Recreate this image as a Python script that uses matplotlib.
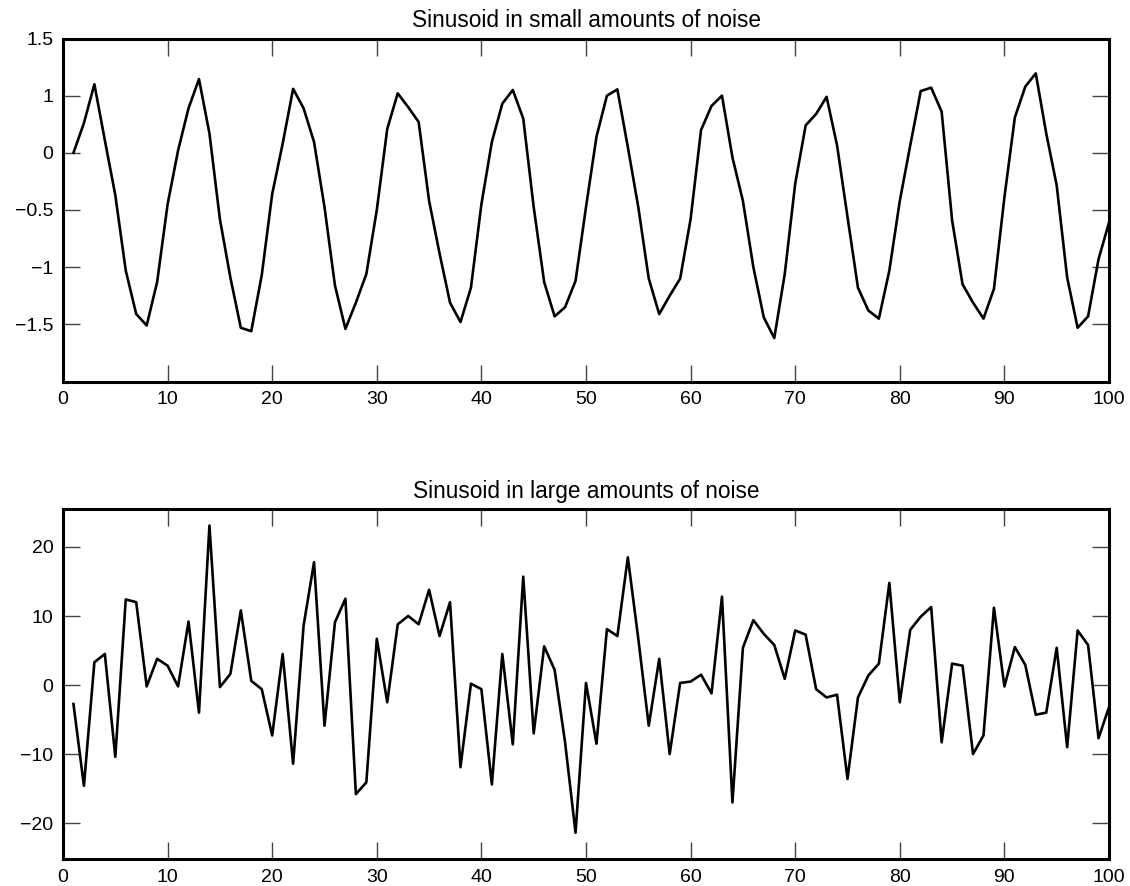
"""Sinusoid in small / large amounts of noise, two stacked line plots."""
import numpy as np
import matplotlib
matplotlib.use('Agg')
from matplotlib import pyplot as plt

plt.rcParams['font.family'] = ['Liberation Sans', 'DejaVu Sans']

#
# Data
#
n = np.arange(1, 101)

small_noise = [0.00, 0.26, 0.60, 0.11, -0.37, -1.03, -1.41, -1.51, -1.13, -0.45,
               0.02, 0.39, 0.645, 0.17, -0.58, -1.09, -1.53, -1.56, -1.07, -0.36,
               0.08, 0.56, 0.39, 0.095, -0.475, -1.16, -1.54, -1.31, -1.06, -0.50,
               0.21, 0.52, 0.40, 0.27, -0.42, -0.88, -1.31, -1.48, -1.18, -0.45,
               0.095, 0.43, 0.55, 0.30, -0.475, -1.13, -1.43, -1.35, -1.12, -0.475,
               0.14, 0.50, 0.555, 0.05, -0.475, -1.10, -1.41, -1.25, -1.10, -0.58,
               0.20, 0.41, 0.50, -0.04, -0.42, -1.00, -1.44, -1.62, -1.06, -0.27,
               0.24, 0.34, 0.49, 0.066, -0.56, -1.18, -1.38, -1.45, -1.03, -0.42,
               0.066, 0.54, 0.57, 0.36, -0.59, -1.15, -1.31, -1.45, -1.19, -0.39,
               0.31, 0.58, 0.695, 0.17, -0.285, -1.09, -1.53, -1.43, -0.93, -0.61]

large_noise = [-2.75, -14.6, 3.3, 4.5, -10.4, 12.4, 12.0, -0.2, 3.8, 2.8,
               -0.2, 9.2, -4.0, 23.1, -0.3, 1.6, 10.8, 0.6, -0.6, -7.3,
               4.5, -11.4, 8.6, 17.8, -5.9, 9.1, 12.5, -15.8, -14.1, 6.7,
               -2.5, 8.8, 10.0, 8.8, 13.8, 7.1, 12.0, -11.9, 0.2, -0.6,
               -14.4, 4.5, -8.6, 15.7, -7.0, 5.6, 2.2, -8.3, -21.4, 0.3,
               -8.5, 8.1, 7.1, 18.5, 6.7, -5.9, 3.8, -10.0, 0.3, 0.5,
               1.5, -1.2, 12.8, -17.0, 5.4, 9.4, 7.4, 5.8, 0.9, 7.9,
               7.3, -0.6, -1.8, -1.4, -13.6, -1.8, 1.4, 3.1, 14.8, -2.5,
               8.0, 9.9, 11.3, -8.3, 3.1, 2.8, -10.0, -7.3, 11.2, -0.2,
               5.5, 2.9, -4.3, -4.0, 5.4, -9.0, 7.9, 5.8, -7.7, -3.2]

xticks = list(range(0, 101, 10))
small_yticks = [-1.5, -1, -0.5, 0, 0.5, 1]
small_yticklabels = ['\u22121.5', '\u22121', '\u22120.5', '0', '1', '1.5']
large_yticks = [-20, -10, 0, 10, 20]

titles = ['Sinusoid in small amounts of noise',
          'Sinusoid in large amounts of noise']


#
# Plot
#
def style(ax):
    for sp in ax.spines.values():
        sp.set_linewidth(2.2)
    ax.tick_params(direction='in', length=12, width=1.0, color='#444444',
                   top=True, right=True, labelsize=14, pad=7)
    ax.set_xlim(0, 100)
    ax.set_xticks(xticks)


fig = plt.figure(figsize=(11.3, 8.86), dpi=100)

ax1 = fig.add_axes([63 / 1130, 1 - 381.5 / 886, 1046 / 1130, 343 / 886])
ax1.plot(n, small_noise, '-', color='black', lw=1.9)
style(ax1)
ax1.set_ylim(-2, 1)
ax1.set_yticks(small_yticks)
ax1.set_yticklabels(small_yticklabels)
ax1.set_title(titles[0], fontsize=16.3, pad=8)

ax2 = fig.add_axes([63 / 1130, 1 - 859 / 886, 1046 / 1130, 350 / 886])
ax2.plot(n, large_noise, '-', color='black', lw=1.9)
style(ax2)
ax2.set_ylim(-25.2, 25.5)
ax2.set_yticks(large_yticks)
ax2.set_title(titles[1], fontsize=16.3, pad=8)

plt.savefig('out.png', dpi=100, facecolor='white')
